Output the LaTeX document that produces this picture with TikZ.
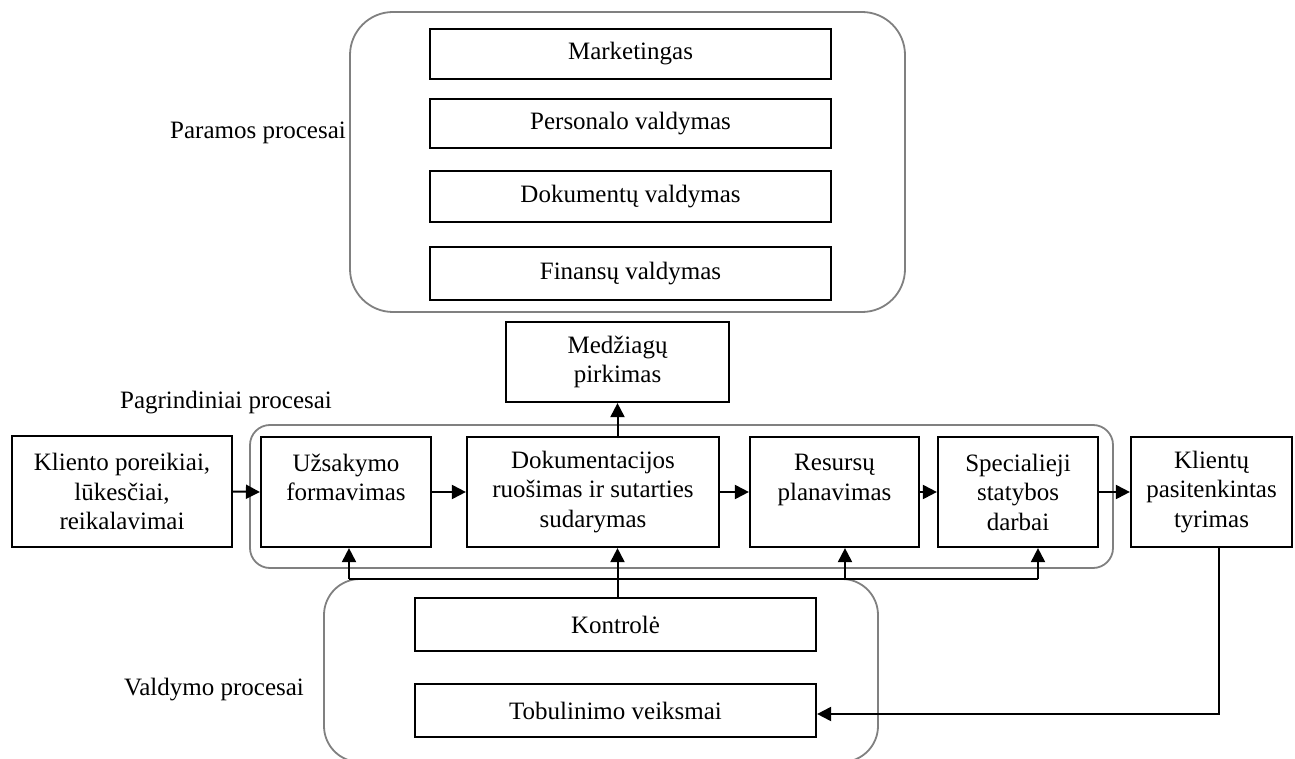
\documentclass[tikz,border=0pt]{standalone}
\usepackage{fontspec}
\setmainfont{Liberation Serif}
\usetikzlibrary{arrows.meta,calc}
\begin{document}
\begin{tikzpicture}[x=1pt,y=-1pt,
  every node/.style={font=\fontsize{25}{29.5}\selectfont},
  box/.style={draw=black,line width=2.2pt,rectangle,inner sep=0pt,align=center,fill=white},
  grp/.style={draw=black!50,line width=1.8pt},
  lbl/.style={inner sep=0pt},
  arr/.style={line width=2pt,-{Triangle[length=14pt,width=14pt]}},
  ln/.style={line width=2pt}]
\useasboundingbox (0,0) rectangle (1295,759);
\begin{scope}
\clip (0,0) rectangle (1295,759);
% containers
\draw[grp,rounded corners=43pt] (350,12) rectangle (905,312);
\draw[grp,rounded corners=20pt] (250,425) rectangle (1113,568);
\draw[grp,rounded corners=36pt] (324,579) rectangle (878,762);
\end{scope}
% labels
\node[lbl] (lpar) at (258,133) {Paramos procesai};
\node[lbl] (lpag) at (226,403) {Pagrindiniai procesai};
\node[lbl] (lval) at (214,690) {Valdymo procesai};
% support boxes
\node[box,minimum width=401pt,minimum height=50pt] (mark) at (630.5,54) {Marketingas};
\node[box,minimum width=401pt,minimum height=49pt] (pers) at (630.5,123.5) {Personalo valdymas};
\node[box,minimum width=401pt,minimum height=51pt] (dokv) at (630.5,196.5) {Dokumentų valdymas};
\node[box,minimum width=401pt,minimum height=53pt] (fin) at (630.5,273.5) {Finansų valdymas};
% purchase
\node[box,minimum width=223pt,minimum height=80pt] (medz) at (617.5,362) {Medžiagų\\pirkimas};
% main row
\node[box,minimum width=220pt,minimum height=111pt] (klp) at (122,491.5) {Kliento poreikiai,\\lūkesčiai,\\reikalavimai};
\node[box,minimum width=170pt,minimum height=110pt] (uzs) at (346,492) {Užsakymo\\formavimas\\\mbox{}};
\node[box,minimum width=252pt,minimum height=110pt] (dok) at (593,492) {Dokumentacijos\\ruošimas ir sutarties\\sudarymas};
\node[box,minimum width=169pt,minimum height=110pt] (res) at (834.5,492) {Resursų\\planavimas\\\mbox{}};
\node[box,minimum width=160pt,minimum height=110pt] (spec) at (1018,492) {Specialieji\\statybos\\darbai};
\node[box,minimum width=161pt,minimum height=110pt] (kpt) at (1211.5,492) {Klientų\\pasitenkintas\\tyrimas};
% control boxes
\node[box,minimum width=401pt,minimum height=53pt] (kon) at (615.5,624.5) {Kontrolė};
\node[box,minimum width=401pt,minimum height=53pt] (tob) at (615.5,710.5) {Tobulinimo veiksmai};
% flow arrows
\draw[arr] (klp.east) -- (uzs.west);
\draw[arr] (uzs.east) -- (dok.west);
\draw[arr] (dok.east) -- (res.west);
\draw[arr] (res.east) -- (spec.west);
\draw[arr] (spec.east) -- (kpt.west);
\draw[arr] (dok.north -| medz.south) -- (medz.south);
% control bus
\coordinate (b1) at (349,579);
\coordinate (b3) at (845,579);
\coordinate (b4) at (1038,579);
\draw[ln] (b1) -- (b4);
\draw[arr] (b1) -- (b1 |- uzs.south);
\draw[arr] (b3) -- (b3 |- res.south);
\draw[arr] (b4) -- (b4 |- spec.south);
\draw[arr] (kon.north -| medz.south) -- (dok.south -| medz.south);
% feedback
\coordinate (fb) at (1219,714);
\draw[arr] (kpt.south -| fb) -- (fb) -- (tob.east |- fb);
\end{tikzpicture}
\end{document}
